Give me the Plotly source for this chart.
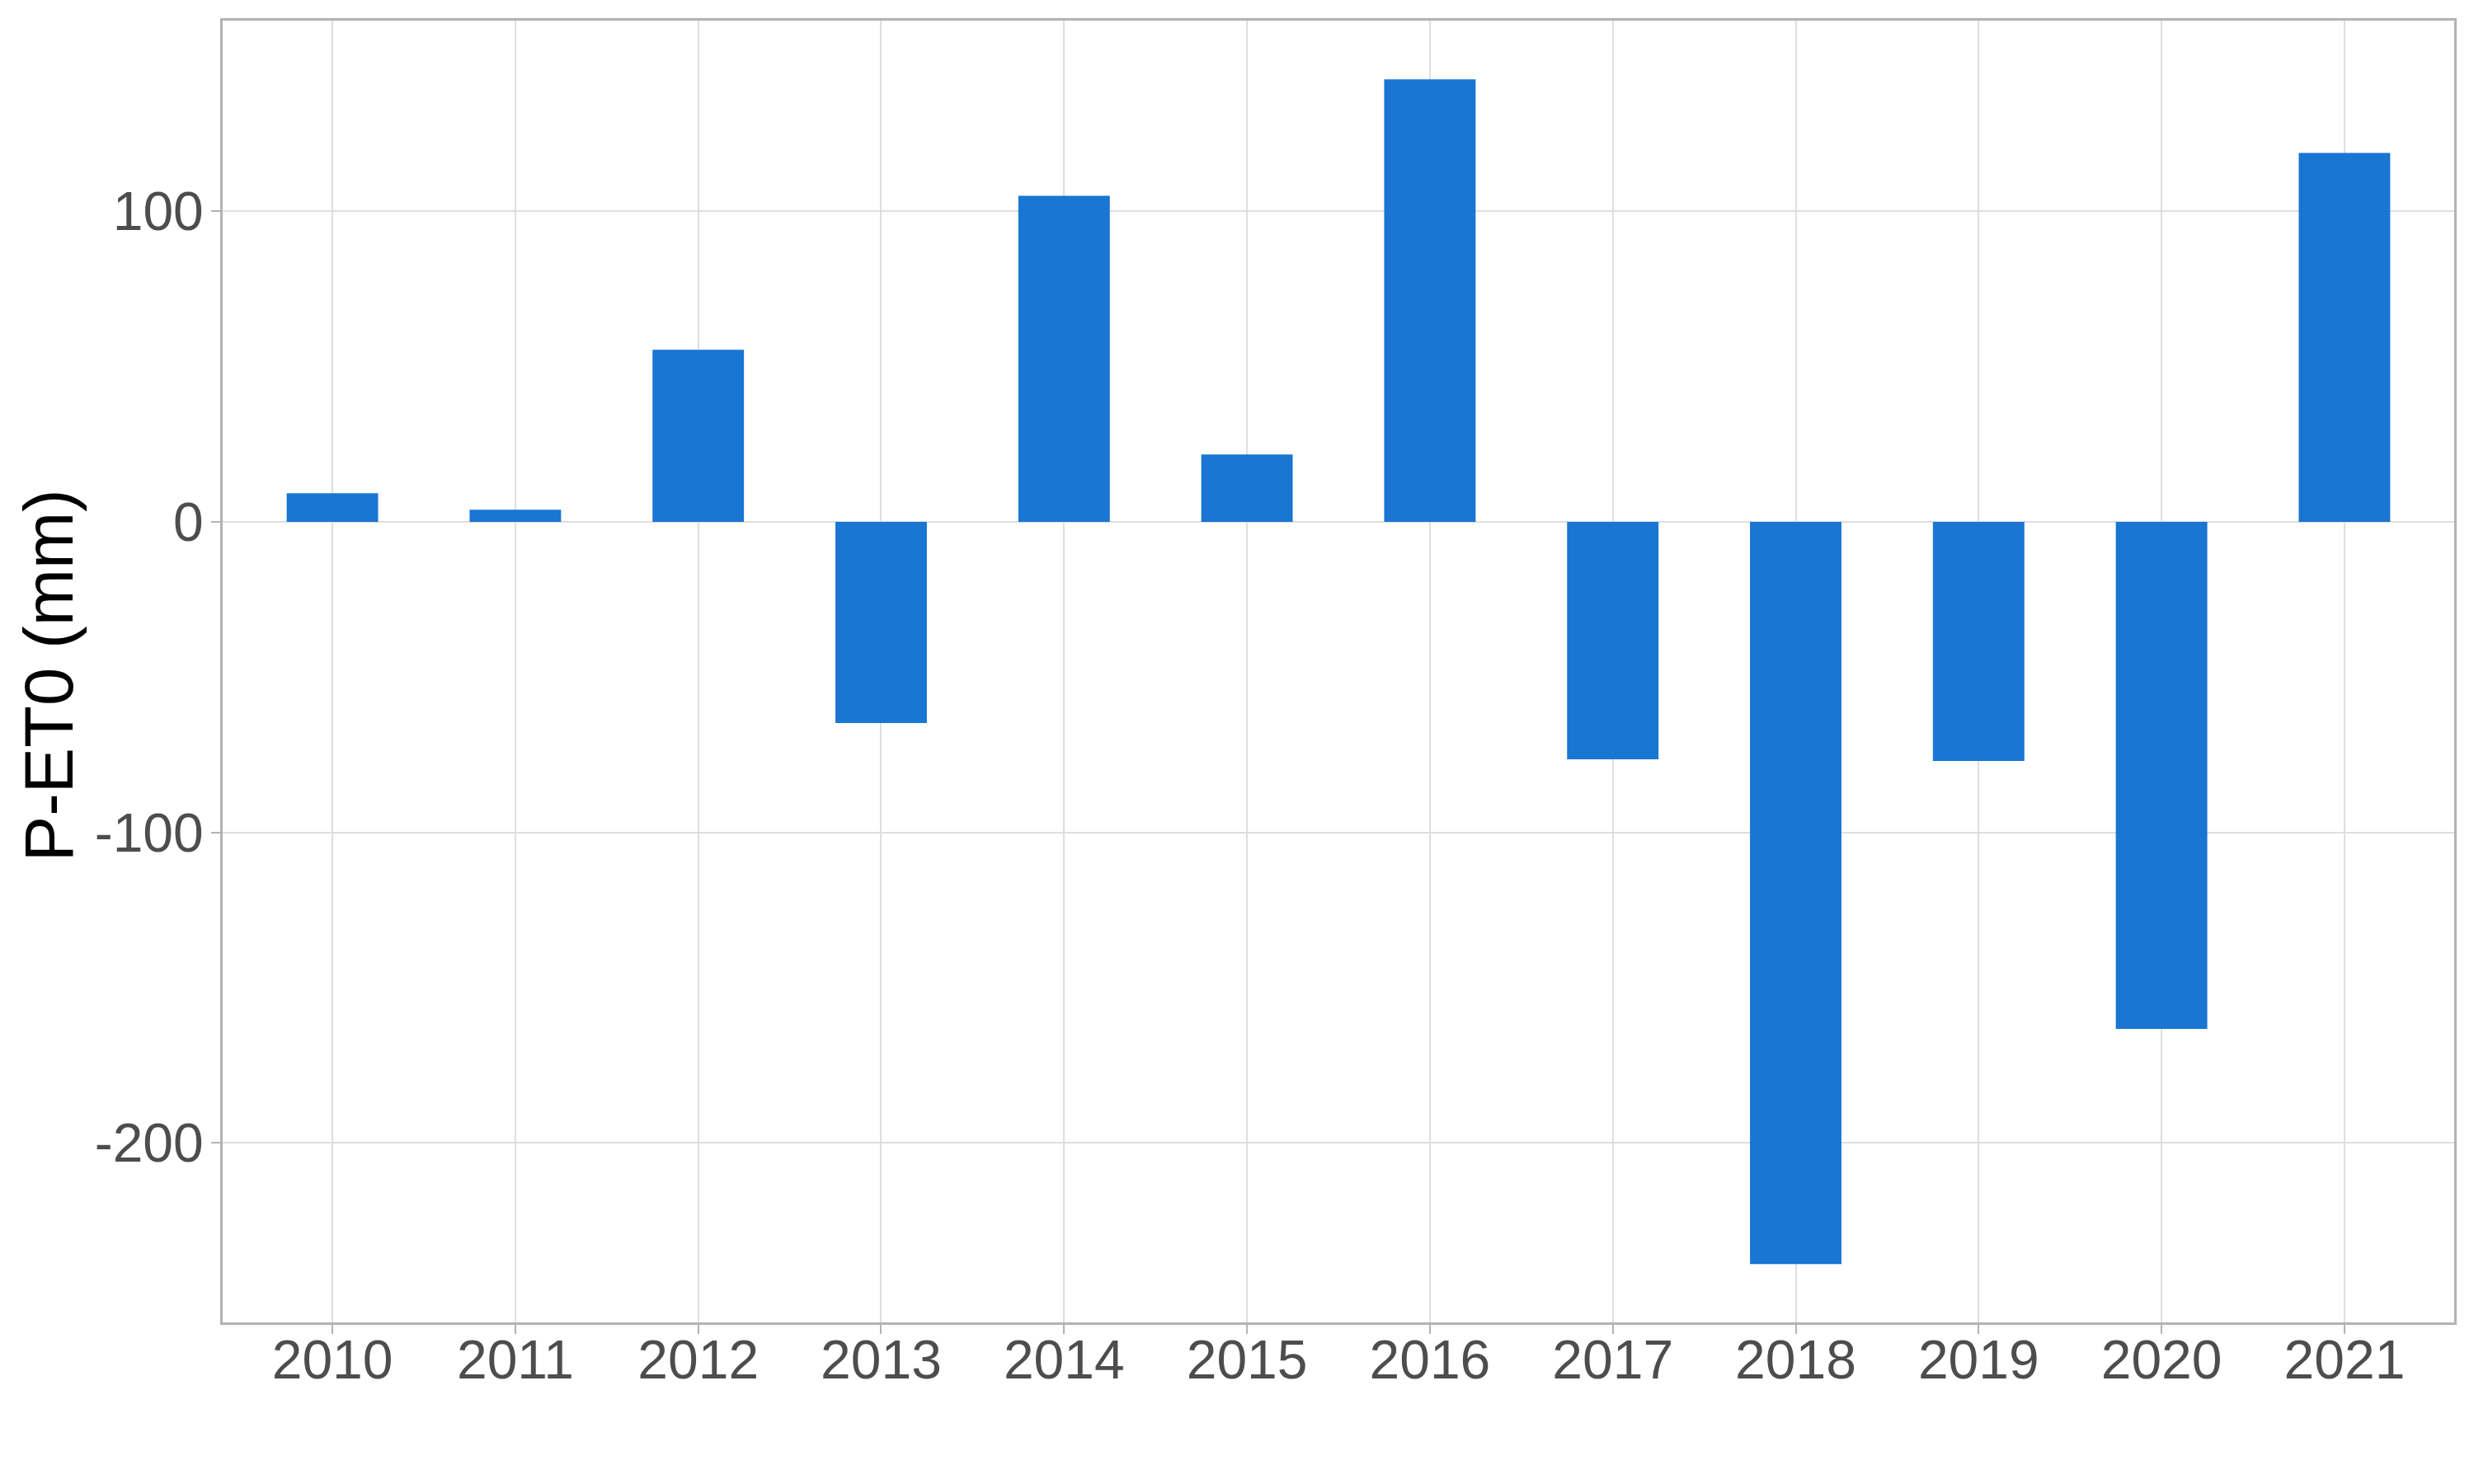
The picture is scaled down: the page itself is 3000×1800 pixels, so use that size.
import plotly.graph_objects as go

# Yearly water balance (precipitation minus reference ET)
years = ["2010", "2011", "2012", "2013", "2014", "2015",
         "2016", "2017", "2018", "2019", "2020", "2021"]
p_minus_et0 = [9.2, 3.9, 55.4, -64.8, 105.0, 21.7,
               142.5, -76.5, -239.0, -77.0, -163.3, 118.8]

y_ticks = [-200, -100, 0, 100]
y_tick_labels = ["-200", "-100", "0", "100"]

bar_color = "#1976D2"
grid_color = "#DEDEDE"
border_color = "#B3B3B3"
font_family = "Liberation Sans, Arial, sans-serif"

fig = go.Figure()
fig.add_trace(go.Bar(
    x=years,
    y=p_minus_et0,
    width=0.5,
    marker=dict(color=bar_color, line=dict(width=0)),
    showlegend=False,
))

fig.update_xaxes(
    type="category",
    range=[-0.6, 11.6],
    showgrid=True, gridcolor=grid_color, gridwidth=2,
    showline=True, linecolor=border_color, linewidth=3, mirror=True,
    ticks="outside", ticklen=11, tickwidth=2, tickcolor=border_color,
    tickfont=dict(family=font_family, size=66, color="#4D4D4D"),
    ticklabelstandoff=-25,
    zeroline=False,
)
fig.update_yaxes(
    range=[-257.8, 161.4],
    tickvals=y_ticks, ticktext=y_tick_labels,
    showgrid=True, gridcolor=grid_color, gridwidth=2,
    showline=True, linecolor=border_color, linewidth=3, mirror=True,
    ticks="outside", ticklen=11, tickwidth=2, tickcolor=border_color,
    tickfont=dict(family=font_family, size=66, color="#4D4D4D"),
    ticklabelstandoff=-4,
    zeroline=False,
)

# y-axis title placed as a rotated annotation
fig.add_annotation(
    text="P-ET0 (mm)",
    xref="paper", yref="paper",
    x=-0.078, y=0.497,
    xanchor="center", yanchor="middle",
    textangle=-90,
    showarrow=False,
    font=dict(family=font_family, size=83, color="black"),
)

fig.update_layout(
    width=3000, height=1800,
    margin=dict(l=262, r=32, t=17, b=204),
    plot_bgcolor="white",
    paper_bgcolor="white",
    bargap=0.5,
)

fig.write_html("out.html")
